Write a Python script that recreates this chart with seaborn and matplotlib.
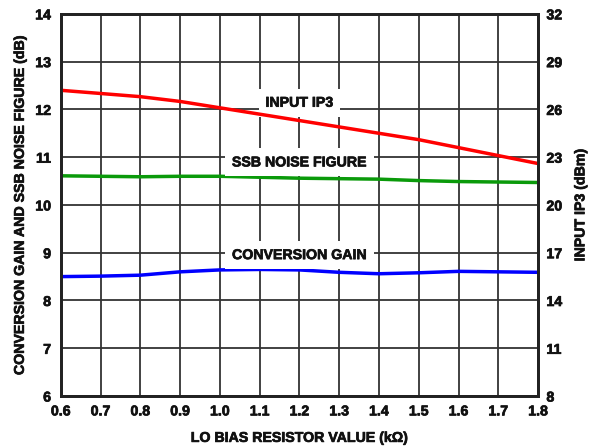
import matplotlib
matplotlib.use('Agg')
import matplotlib.pyplot as plt
import matplotlib.patheffects as pe
import pandas as pd
import seaborn as sns

# Data
resistor_kohm = [0.6, 0.7, 0.8, 0.9, 1.0, 1.1, 1.2, 1.3, 1.4, 1.5, 1.6, 1.7, 1.8]
input_ip3_dbm = [27.2, 27.0, 26.8, 26.5, 26.1, 25.7, 25.3, 24.9, 24.5, 24.1, 23.6, 23.1, 22.6]
ssb_nf_db = [10.61, 10.60, 10.59, 10.60, 10.60, 10.58, 10.56, 10.55, 10.54, 10.51, 10.49, 10.48, 10.47]
conv_gain_db = [8.50, 8.51, 8.53, 8.60, 8.64, 8.65, 8.64, 8.59, 8.56, 8.58, 8.61, 8.60, 8.59]

left_ticks = [6, 7, 8, 9, 10, 11, 12, 13, 14]
right_ticks = [8, 11, 14, 17, 20, 23, 26, 29, 32]

df = pd.DataFrame({'r': resistor_kohm, 'ip3': input_ip3_dbm,
                   'nf': ssb_nf_db, 'gain': conv_gain_db})

sns.set_style('white')
plt.rcParams['font.family'] = ['Liberation Sans', 'DejaVu Sans']
plt.rcParams['font.weight'] = 'bold'

fig = plt.figure(figsize=(5.9, 4.47), dpi=100)
ax = fig.add_axes([0.103, 0.114, 0.809, 0.855])
ax2 = ax.twinx()

# grid
ax.set_xticks(resistor_kohm)
ax.set_yticks(left_ticks)
ax.grid(True, color='#333333', linewidth=1.3)
ax.set_axisbelow(True)

sns.lineplot(data=df, x='r', y='nf', ax=ax, color='#0a9a0a', linewidth=2.5)
sns.lineplot(data=df, x='r', y='gain', ax=ax, color='#0000ff', linewidth=2.5)
sns.lineplot(data=df, x='r', y='ip3', ax=ax2, color='#ff0000', linewidth=2.5)

ax.set_xlim(0.6, 1.8)
ax.set_ylim(6, 14)
ax2.set_ylim(8, 32)
ax2.set_yticks(right_ticks)

fs = 10.2
ax.set_xticklabels([f'{v:.1f}' for v in resistor_kohm], fontsize=fs, fontweight='bold')
ax.set_yticklabels([str(v) for v in left_ticks], fontsize=fs, fontweight='bold')
ax2.set_yticklabels([str(v) for v in right_ticks], fontsize=fs, fontweight='bold')

ax.set_xlabel('LO BIAS RESISTOR VALUE (kΩ)', fontsize=fs, fontweight='bold', labelpad=9)
ax.set_ylabel('CONVERSION GAIN AND SSB NOISE FIGURE (dB)', fontsize=fs, fontweight='bold', labelpad=6)
ax2.set_ylabel('INPUT IP3 (dBm)', fontsize=fs, fontweight='bold', labelpad=8)

for a in (ax, ax2):
    for s in a.spines.values():
        s.set_linewidth(2)
        s.set_color('#222222')
ax.tick_params(axis='x', length=0, pad=6)
ax.tick_params(axis='y', length=0, pad=7)
ax2.tick_params(length=0, pad=6)

box = dict(facecolor='white', edgecolor='none', pad=5)
ax.text(1.2, 12.14, 'INPUT IP3', ha='center', va='center', fontsize=fs,
        fontweight='bold', bbox=box, zorder=5)
ax.text(1.2, 10.89, 'SSB NOISE FIGURE', ha='center', va='center', fontsize=fs,
        fontweight='bold', bbox=box, zorder=5)
ax.text(1.2, 8.95, 'CONVERSION GAIN', ha='center', va='center', fontsize=fs,
        fontweight='bold', bbox=box, zorder=5)

# heavier text like the original print style
stroke = [pe.withStroke(linewidth=0.5, foreground='#111111')]
texts = (ax.get_xticklabels() + ax.get_yticklabels() + ax2.get_yticklabels()
         + [ax.xaxis.label, ax.yaxis.label, ax2.yaxis.label] + ax.texts)
for t in texts:
    t.set_color('#111111')
    t.set_path_effects(stroke)

fig.savefig('out.png', dpi=100)
